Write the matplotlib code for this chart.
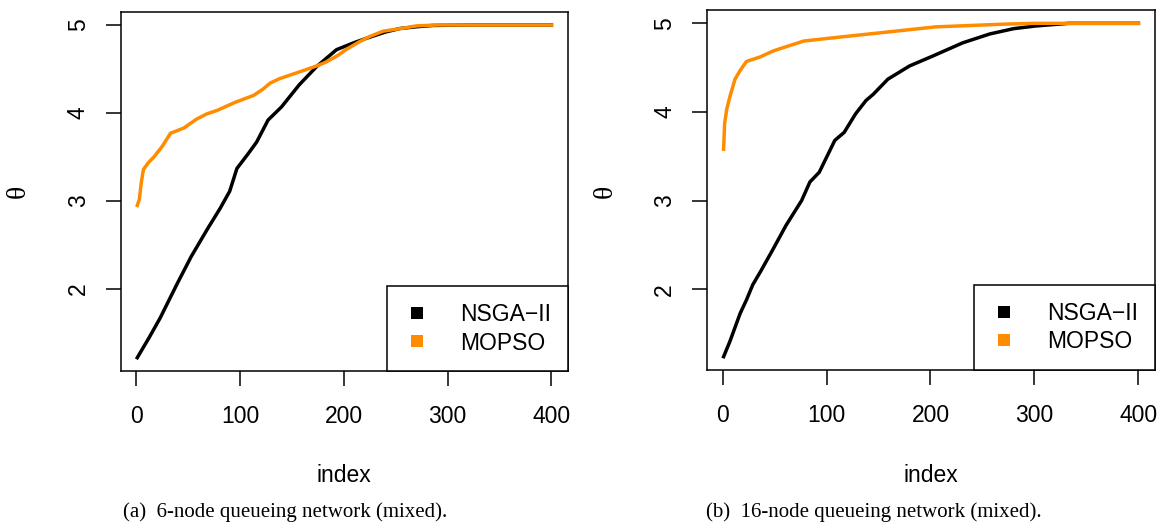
import matplotlib
matplotlib.use("Agg")
import matplotlib.pyplot as plt
from matplotlib.lines import Line2D

# ---------------- data ----------------
a_nsga_idx = [1, 13, 23, 39, 53, 69, 81, 90, 97, 108, 116, 127, 140, 157, 174, 193, 210, 222, 240, 254, 270, 286, 320, 400]
a_nsga_val = [1.22, 1.46, 1.67, 2.05, 2.37, 2.69, 2.92, 3.11, 3.37, 3.54, 3.67, 3.92, 4.07, 4.32, 4.53, 4.72, 4.80, 4.85, 4.92, 4.96, 4.98, 4.995, 5.0, 5.0]

a_mopso_idx = [1, 3, 5, 7, 12, 17, 25, 33, 46, 58, 68, 78, 95, 113, 122, 129, 138, 158, 175, 183, 195, 202, 215, 225, 238, 255, 270, 290, 400]
a_mopso_val = [2.95, 3.02, 3.22, 3.36, 3.44, 3.50, 3.62, 3.77, 3.83, 3.93, 3.99, 4.03, 4.12, 4.20, 4.27, 4.34, 4.39, 4.47, 4.54, 4.58, 4.66, 4.72, 4.81, 4.87, 4.93, 4.96, 4.99, 5.0, 5.0]

b_nsga_idx = [1, 7, 17, 23, 29, 37, 48, 61, 76, 84, 93, 108, 117, 128, 138, 145, 159, 180, 202, 231, 257, 280, 301, 333, 400]
b_nsga_val = [1.24, 1.41, 1.73, 1.88, 2.05, 2.21, 2.44, 2.72, 3.0, 3.21, 3.32, 3.68, 3.77, 3.98, 4.13, 4.20, 4.37, 4.52, 4.63, 4.78, 4.88, 4.94, 4.97, 5.0, 5.0]

b_mopso_idx = [1, 2, 4, 7, 12, 17, 23, 36, 49, 78, 109, 157, 205, 269, 300, 400]
b_mopso_val = [3.58, 3.87, 4.03, 4.17, 4.37, 4.47, 4.57, 4.62, 4.69, 4.80, 4.84, 4.90, 4.96, 4.99, 5.0, 5.0]

series_names = ["NSGA\u2212II", "MOPSO"]
series_colors = ["black", "#FF8C00"]
x_ticks = [0, 100, 200, 300, 400]
y_ticks = [2, 3, 4, 5]
captions = ["(a)  6-node queueing network (mixed).", "(b)  16-node queueing network (mixed)."]

# ---------------- figure ----------------
W, H = 1169, 527
fig = plt.figure(figsize=(W / 100, H / 100), dpi=100)
SANS = "Liberation Sans"
SERIF = "Liberation Serif"
FS = 16.5

def fx(px):
    return px / W

def fy(py):
    return 1 - py / H

boxes = [(120.7, 11.7, 568, 371), (707, 10, 1155, 370)]
panels = [
    (a_nsga_idx, a_nsga_val, a_mopso_idx, a_mopso_val),
    (b_nsga_idx, b_nsga_val, b_mopso_idx, b_mopso_val),
]
theta_x = [18.5, 605]
caption_x = [123, 706]

for k, ((l, t, r, b), (ni, nv, mi, mv)) in enumerate(zip(boxes, panels)):
    ax = fig.add_axes([fx(l), fy(b), fx(r) - fx(l), fy(t) - fy(b)])
    ax.plot(ni, nv, color=series_colors[0], lw=2.5, solid_joinstyle="round")
    ax.plot(mi, mv, color=series_colors[1], lw=2.5, solid_joinstyle="round")

    allx = ni + mi
    ally = nv + mv
    xr = max(allx) - min(allx)
    yr = max(ally) - min(ally)
    ax.set_xlim(min(allx) - 0.04 * xr, max(allx) + 0.04 * xr)
    ax.set_ylim(min(ally) - 0.04 * yr, max(ally) + 0.04 * yr)

    ax.set_xticks(x_ticks)
    ax.set_yticks(y_ticks)
    ax.set_xticklabels([str(v) for v in x_ticks], fontfamily=SANS, fontsize=FS)
    ax.set_yticklabels([str(v) for v in y_ticks], fontfamily=SANS, fontsize=FS,
                       rotation=90, va="center")
    ax.tick_params(axis="both", direction="out", length=10.8, width=1.1)
    ax.tick_params(axis="x", pad=14)
    ax.tick_params(axis="y", pad=11.5)
    for s in ax.spines.values():
        s.set_linewidth(1.1)

    handles = [Line2D([], [], ls="none", marker="s", markersize=8, color=c,
                      markeredgewidth=0) for c in series_colors]
    leg = ax.legend(handles, series_names, loc="lower right", bbox_to_anchor=(1, 0),
                    borderaxespad=0, fancybox=False, edgecolor="black", framealpha=1,
                    prop={"family": SANS, "size": FS}, borderpad=0.72,
                    handlelength=1.13, handletextpad=1.35, labelspacing=0.26)
    leg.get_frame().set_linewidth(1.1)

    cx = (l + r) / 2
    fig.text(fx(cx), fy(475), "index", ha="center", va="center",
             fontfamily=SANS, fontsize=FS)
    fig.text(fx(theta_x[k]), fy(191), "\u03b8", ha="center", va="center",
             rotation=90, fontfamily=SERIF, fontsize=20)
    fig.text(fx(caption_x[k]), fy(512), captions[k], ha="left", va="center",
             fontfamily=SERIF, fontsize=15)

fig.savefig("out.png", dpi=100)
